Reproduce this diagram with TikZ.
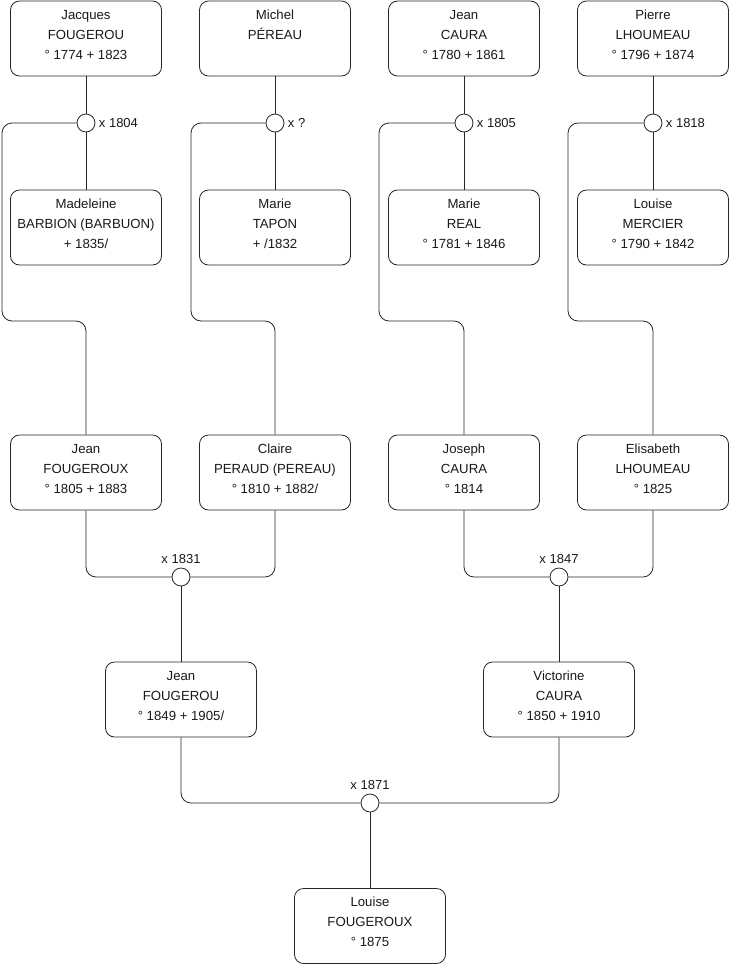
\documentclass[tikz,border=0pt]{standalone}
\usepackage{fontspec}
\setmainfont{Liberation Sans}
\usetikzlibrary{positioning}

\begin{document}
\begin{tikzpicture}[x=1pt, y=-1pt,
    person/.style={draw=black!85, line width=0.8pt, rounded corners=9pt, minimum width=151pt, minimum height=75pt,
                   align=center, text=black!90, font=\fontsize{13.2}{20}\selectfont, inner sep=0pt,
                   execute at begin node={\rule{0pt}{12pt}},
                   execute at end node={\rule[-8pt]{0pt}{0pt}}},
    union/.style={circle, draw=black!85, line width=0.8pt, fill=white, minimum size=18pt, inner sep=0pt},
    year/.style={font=\fontsize{13}{15}\selectfont, text=black!90},
    link/.style={draw=black!85, line width=0.8pt, rounded corners=10pt}]

    % 0. Fix the size of the page
    \useasboundingbox (0,0) rectangle (740,975);

    % 1. The great-grandparents
    \node[person] (jacques) at (86,38.5) {Jacques\\FOUGEROU\\° 1774 + 1823};
    \node[person] (michel) at (275,38.5) {Michel\\PÉREAU\\~};
    \node[person] (jeanC) at (464,38.5) {Jean\\CAURA\\° 1780 + 1861};
    \node[person] (pierre) at (653,38.5) {Pierre\\LHOUMEAU\\° 1796 + 1874};

    \node[person] (madeleine) at (86,227.5) {Madeleine\\BARBION (BARBUON)\\+ 1835/};
    \node[person] (marieT) at (275,227.5) {Marie\\TAPON\\+ /1832};
    \node[person] (marieR) at (464,227.5) {Marie\\REAL\\° 1781 + 1846};
    \node[person] (louiseM) at (653,227.5) {Louise\\MERCIER\\° 1790 + 1842};

    % 2. Their marriages
    \node[union, label={[year]right:x 1804}] (m1804) at (86,123) {};
    \node[union, label={[year]right:x ?}] (mQ) at (275,123) {};
    \node[union, label={[year]right:x 1805}] (m1805) at (464,123) {};
    \node[union, label={[year]right:x 1818}] (m1818) at (653,123) {};

    \draw[link] (jacques) -- (m1804) -- (madeleine);
    \draw[link] (michel) -- (mQ) -- (marieT);
    \draw[link] (jeanC) -- (m1805) -- (marieR);
    \draw[link] (pierre) -- (m1818) -- (louiseM);

    % 3. The grandparents
    \node[person] (jeanFx) at (86,472.5) {Jean\\FOUGEROUX\\° 1805 + 1883};
    \node[person] (claire) at (275,472.5) {Claire\\PERAUD (PEREAU)\\° 1810 + 1882/};
    \node[person] (joseph) at (464,472.5) {Joseph\\CAURA\\° 1814};
    \node[person] (elisabeth) at (653,472.5) {Elisabeth\\LHOUMEAU\\° 1825};

    % 3a. From each marriage down to the child
    \coordinate (bend1) at (2,321);
    \coordinate (bend2) at (191,321);
    \coordinate (bend3) at (379,321);
    \coordinate (bend4) at (568,321);
    \draw[link] (m1804.west) -| (bend1) -| (jeanFx.north);
    \draw[link] (mQ.west) -| (bend2) -| (claire.north);
    \draw[link] (m1805.west) -| (bend3) -| (joseph.north);
    \draw[link] (m1818.west) -| (bend4) -| (elisabeth.north);

    % 4. The parents
    \node[union, label={[year]above:x 1831}] (m1831) at (181,577) {};
    \node[union, label={[year]above:x 1847}] (m1847) at (559,577) {};

    \draw[link] (jeanFx.south) |- (m1831.west);
    \draw[link] (claire.south) |- (m1831.east);
    \draw[link] (joseph.south) |- (m1847.west);
    \draw[link] (elisabeth.south) |- (m1847.east);

    \node[person] (jeanFou) at (181,699.5) {Jean\\FOUGEROU\\° 1849 + 1905/};
    \node[person] (victorine) at (559,699.5) {Victorine\\CAURA\\° 1850 + 1910};

    \draw[link] (m1831) -- (jeanFou);
    \draw[link] (m1847) -- (victorine);

    % 5. The last generation
    \node[union, label={[year]above:x 1871}] (m1871) at (370,803) {};
    \draw[link] (jeanFou.south) |- (m1871.west);
    \draw[link] (victorine.south) |- (m1871.east);

    \node[person] (louiseF) at (370,926) {Louise\\FOUGEROUX\\° 1875};
    \draw[link] (m1871) -- (louiseF);

\end{tikzpicture}
\end{document}
